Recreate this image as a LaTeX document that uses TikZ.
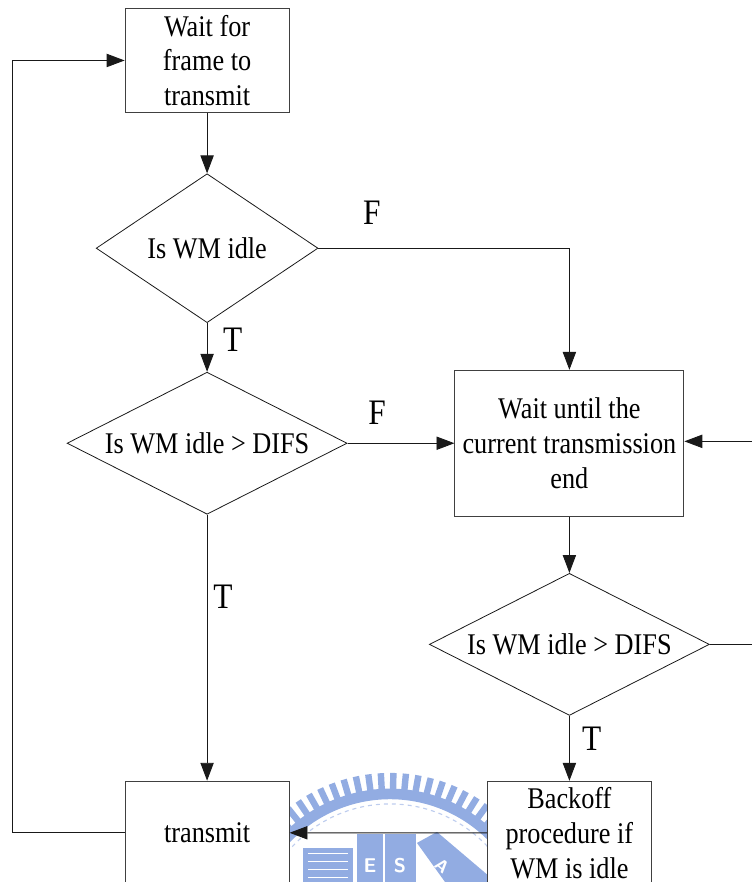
\documentclass[tikz,border=0pt]{standalone}
\usepackage{fontspec}
\setmainfont[FakeStretch=0.875]{Liberation Serif}
\usetikzlibrary{arrows.meta,calc,positioning,shapes.geometric}

\definecolor{sealblue}{RGB}{146,172,226}

\begin{document}
\begin{tikzpicture}[
    font=\fontsize{22.6pt}{26.2pt}\selectfont,
    box/.style={
        draw=black!75,
        fill=white,
        minimum height=27.3mm,
        minimum width=43.4mm,
        align=center,
        inner sep=0pt,
        line width=0.7pt
    },
    test/.style={
        draw=black!90,
        diamond,
        aspect=2,
        fill=white,
        minimum height=37.6mm,
        minimum width=74.1mm,
        inner sep=0pt,
        line width=0.6pt
    },
    flow/.style={-{Triangle[length=13.5pt,width=10pt]}, line width=0.7pt, draw=black!90},
    verdict/.style={inner sep=0pt, font=\fontsize{27pt}{27pt}\selectfont}
]

\useasboundingbox (0,0) rectangle (199mm,-233.4mm);
\clip (0,0) rectangle (199mm,-233.4mm);

% Seal behind the lower boxes
\begin{scope}[x=.2646mm,y=-.2646mm, sealblue]
\coordinate (sealc) at (390,937);
\foreach \a in {36,40.4,...,144} {
    \draw[line width=1.7mm] (sealc) ++(-\a:146) -- ++(-\a:18);
}
\draw[line width=2.8mm] (sealc) ++(-36:143) arc[start angle=-36, end angle=-144, radius=143];
\draw[line width=0.3mm, sealblue!60, dashed] (sealc) ++(-36:133) arc[start angle=-36, end angle=-144, radius=133];
\fill (303,848) rectangle (353,882);
\foreach \y in {854,862,870,878} {
    \draw[white, line width=.3mm] (308,\y) -- (348,\y);
}
\fill (357,834) rectangle (383,882);
\fill (385,834) rectangle (416,882);
\fill (417,843) -- (437,832) -- (490,877) -- (490,882) -- (445,882) -- cycle;
\node[text=white, font=\sffamily\bfseries\fontsize{15pt}{15pt}\selectfont] (sealE) at (370,866) {E};
\node[text=white, font=\sffamily\bfseries\fontsize{15pt}{15pt}\selectfont] (sealS) at (400,866) {S};
\node[text=white, rotate=-40, font=\sffamily\bfseries\fontsize{13pt}{13pt}\selectfont] (sealA) at (442,866) {A};
\end{scope}

% Left column
\node[box] (frame) at (54.8mm,-16mm) {Wait for\\frame to\\transmit};
\node[test, below=16.1mm of frame, minimum width=58.7mm, minimum height=39.4mm] (idle) {Is WM idle};
\node[test, below=12.9mm of idle] (difsa) {Is WM idle > DIFS};
\node[box, below=70.4mm of difsa] (send) {transmit};

% Right column
\node[box, right=28.3mm of difsa, minimum width=60.6mm, minimum height=38.6mm] (waitend) {Wait until the\\current transmission\\end};
\node[test, below=14.9mm of waitend] (difsb) {Is WM idle > DIFS};
\node[box, below=17.2mm of difsb] (backoff) {Backoff\\procedure if\\WM is idle};

% Free ends of the two long returns
\coordinate (rail) at (3.2mm,0);
\coordinate[right=15mm of difsb.east] (turn);
\coordinate (resume) at ($(waitend.east)+(0,.5mm)$);

\draw[flow] (frame) -- (idle);
\draw[flow] (idle) -- (difsa);
\draw[flow] (difsa) -- (send);
\draw[flow] (idle.east) -| (waitend.north);
\draw[flow] (difsa) -- (waitend);
\draw[flow] (waitend) -- (difsb);
\draw[flow] (difsb) -- (backoff);
\draw[flow] (difsb.east) -- (turn) |- (resume);
\draw[flow] (backoff) -- (send);
\draw[flow] (send.west) -- (send.west -| rail) |- (frame.west);

% Branch letters
\node[verdict] (idleF) at (98.4mm,-56.4mm) {F};
\node[verdict] (idleT) at (61.6mm,-90mm) {T};
\node[verdict] (difsaF) at (99.8mm,-109.3mm) {F};
\node[verdict] (difsaT) at (59mm,-158mm) {T};
\node[verdict] (difsbT) at (156.6mm,-195.5mm) {T};

\end{tikzpicture}
\end{document}
